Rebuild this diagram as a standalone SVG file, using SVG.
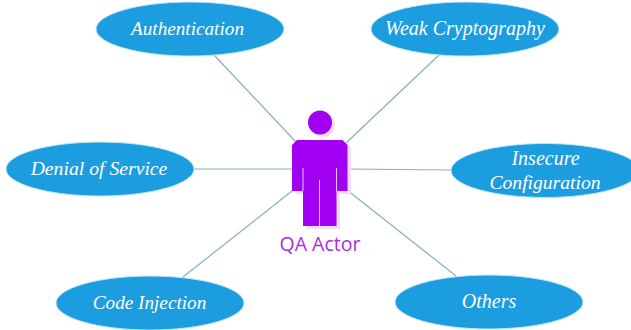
<svg xmlns="http://www.w3.org/2000/svg" width="631" height="330" viewBox="0 0 631 330">
<style>
.n{fill:#1b9ddf;stroke:#c4e6f6;stroke-width:1}
.t{font-family:"Liberation Serif",serif;font-style:italic;font-size:20px;fill:#fff;text-anchor:middle}
.c{stroke:#84aec6;stroke-width:1.200;fill:none}
.a{fill:#a100f2}
.s{fill:#efdcfb}
.g{stroke:#e6c8f9;stroke-width:1}
</style>
<rect width="631" height="330" fill="#fff"/>
<g id="connectors">
<line class="c" x1="214" y1="55" x2="296" y2="142"/>
<line class="c" x1="439" y1="55" x2="346" y2="143"/>
<line class="c" x1="193" y1="169" x2="292" y2="169"/>
<line class="c" x1="347" y1="169" x2="452" y2="170"/>
<line class="c" x1="183" y1="277" x2="292" y2="191"/>
<line class="c" x1="456" y1="276" x2="347" y2="190"/>
</g>
<g id="authentication"><ellipse class="n" cx="190" cy="29" rx="94" ry="27"/><text class="t" x="187.500" y="35" font-size="19.200" style="font-size:19.200px">Authentication</text></g>
<g id="weak-cryptography"><ellipse class="n" cx="465" cy="29" rx="94" ry="27"/><text class="t" x="465" y="35">Weak Cryptography</text></g>
<g id="denial-of-service"><ellipse class="n" cx="100" cy="169" rx="94" ry="27"/><text class="t" x="99" y="175" style="font-size:19.700px">Denial of Service</text></g>
<g id="insecure-configuration"><ellipse class="n" cx="545" cy="170.500" rx="94" ry="27"/><text class="t" x="545.500" y="165">Insecure</text><text class="t" x="545" y="189" style="font-size:19.600px">Configuration</text></g>
<g id="code-injection"><ellipse class="n" cx="150" cy="303" rx="94" ry="27"/><text class="t" x="149.500" y="309" style="font-size:19.200px">Code Injection</text></g>
<g id="others"><ellipse class="n" cx="489" cy="302" rx="94" ry="27"/><text class="t" x="489" y="308">Others</text></g>
<g id="qa-actor">
<circle class="s" cx="323" cy="125" r="12"/>
<path class="s" d="M300 143H346L351 148V194H340V229H307V194H296V148Z"/>
<circle class="a" cx="320" cy="122.500" r="12"/>
<path class="a" d="M297 140H342.500L347.500 145V191H336.500V226H303V191H292V145Z"/>
<line class="g" x1="303" y1="168" x2="303" y2="191"/>
<line class="g" x1="336.500" y1="168" x2="336.500" y2="191"/>
<line class="g" x1="319.500" y1="180" x2="319.500" y2="226"/>
<text x="320" y="251" font-family="'Open Sans','Noto Sans',sans-serif" font-size="19.500" fill="#a52ee0" text-anchor="middle">QA Actor</text>
</g>
</svg>
